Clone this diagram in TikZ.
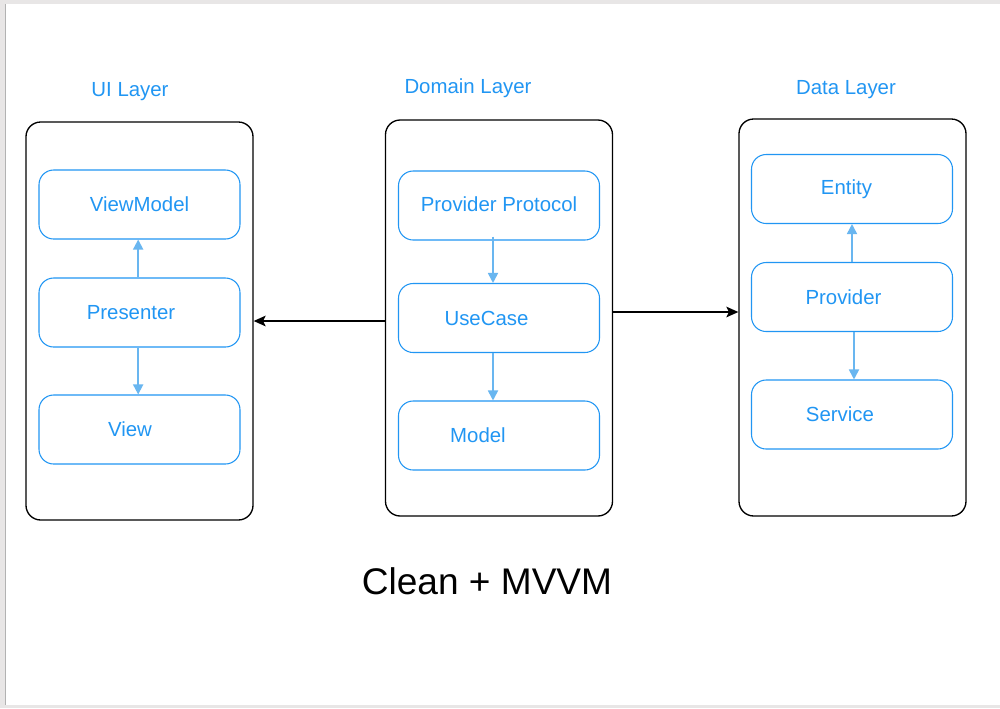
\documentclass[tikz,border=0pt]{standalone}
\usepackage{fontspec}
\setmainfont{Liberation Sans}
\usetikzlibrary{arrows.meta,calc}
\definecolor{tblue}{RGB}{33,150,243}
\definecolor{ablue}{RGB}{105,182,240}
\definecolor{pagegray}{RGB}{232,230,230}
\tikzset{
  layerbox/.style={draw=black, line width=1pt, rounded corners=11pt, minimum width=170.25pt},
  itembox/.style={draw=tblue, line width=0.8pt, rounded corners=11pt, minimum width=150.75pt, minimum height=51.75pt, text=tblue, font=\fontsize{15.3}{18}\selectfont},
  layertitle/.style={text=tblue, font=\fontsize{15.3}{18}\selectfont},
  flow/.style={draw=ablue, line width=1.3pt, -{Triangle[length=7.5pt,width=7.5pt]}},
  dep/.style={draw=black, line width=1pt, -{Stealth[length=9pt,width=8pt,inset=2pt]}}
}
\begin{document}
\begin{tikzpicture}[x=0.75pt,y=-0.75pt]
\useasboundingbox (0,0) rectangle (1000,708);
% page
\fill[pagegray] (0,0) rectangle (1000,708);
\fill[white] (6,4) rectangle (1000,705);
\draw[gray!60, line width=1pt] (5.5,4) -- (5.5,705);
% layer titles
\node[layertitle] (tUI) at (130,92) {UI Layer};
\node[layertitle] (tDom) at (468,88.5) {Domain Layer};
\node[layertitle] (tData) at (846,90) {Data Layer};
% layer boxes
\node[layerbox, minimum height=298.5pt] (UI) at (139.5,321) {};
\node[layerbox, minimum height=297pt] (Dom) at (499,318) {};
\node[layerbox, minimum height=297.75pt] (Data) at (852.5,317.5) {};
% UI items
\node[itembox] (VM) at (139.5,204.5) {\raisebox{-1pt}{ViewModel}};
\node[itembox] (Pres) at (139.5,312.5) {Presenter\hspace*{12.75pt}};
\node[itembox] (View) at (139.5,429.5) {View\hspace*{14.25pt}};
% Domain items
\node[itembox] (PP) at (499,205.5) {\raisebox{2.5pt}{Provider Protocol}};
\node[itembox] (UC) at (499,318) {UseCase\hspace*{18.75pt}};
\node[itembox] (Mod) at (499,435.5) {Model\hspace*{31.5pt}};
% Data items
\node[itembox] (Ent) at (852,189) {\raisebox{-1pt}{Entity}\hspace*{8.25pt}};
\node[itembox] (Prov) at (852,297) {\raisebox{-1.5pt}{Provider}\hspace*{12.75pt}};
\node[itembox] (Serv) at (852,414.5) {Service\hspace*{18pt}};
% blue flows
\draw[flow] ([xshift=-1pt]Pres.north) -- ([xshift=-1pt]VM.south);
\draw[flow] ([xshift=-1pt]Pres.south) -- ([xshift=-1pt]View.north);
\draw[flow] ([xshift=-4.5pt,yshift=3pt]PP.south) -- ([xshift=-4.5pt]UC.north);
\draw[flow] ([xshift=-4.5pt]UC.south) -- ([xshift=-4.5pt]Mod.north);
\draw[flow] (Prov.north) -- (Ent.south);
\draw[flow] ([xshift=1.5pt]Prov.south) -- ([xshift=1.5pt]Serv.north);
% black dependencies
\draw[dep] ($(Dom.west)+(0,3)$) -- ($(UI.east)+(0,0)$);
\draw[dep] ($(Dom.east)+(0,-6)$) -- ($(Data.west)+(0,-5.5)$);
% title
\node[font=\fontsize{27.8}{33}\selectfont] (title) at (487,581) {Clean + MVVM};
\end{tikzpicture}
\end{document}
